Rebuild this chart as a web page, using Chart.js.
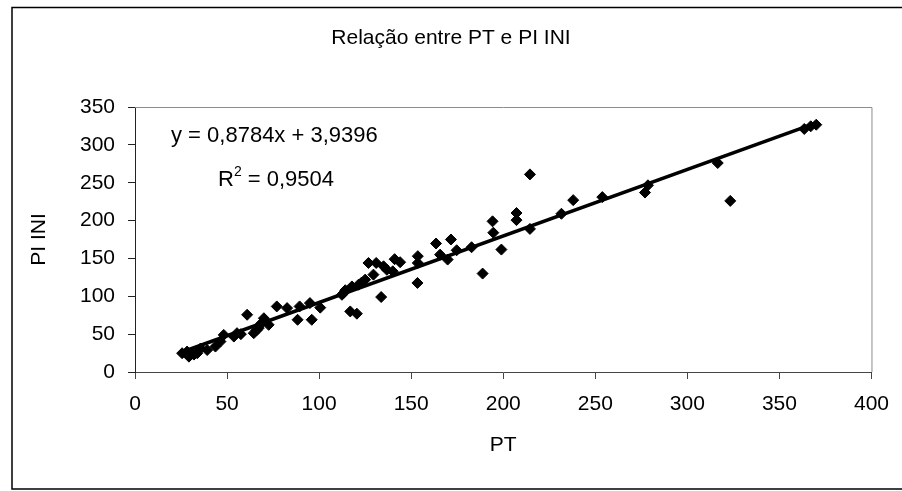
<!DOCTYPE html>
<html>
<head>
<meta charset="utf-8">
<script src="https://cdn.jsdelivr.net/npm/chart.js@4"></script>
<style>
  html, body { margin: 0; padding: 0; background: #ffffff; }
  #wrap { width: 902px; height: 491px; position: relative; }
</style>
</head>
<body>
<div id="wrap"><canvas id="chart" width="902" height="491"></canvas></div>
<script>
// PT (x) and PI INI (y) observations
const ptValues = [
  25.6, 28.3, 29.3, 32, 33.8, 35.6, 39.2, 43.7, 46.4, 48.2,
  53.7, 55.4, 57.5, 60.9, 64.5, 66, 67.2, 68.5, 70, 72.6,
  77, 82.6, 88.3, 89.4, 95, 96, 100.6, 112.4, 113.3, 114.2,
  117.8, 116.9, 120.5, 121.4, 123, 125, 126.8, 129.5, 131, 133.7,
  135, 136.8, 140, 141, 144, 153.6, 153.6, 153.4, 163.5, 165.7,
  169.8, 171.6, 174.7, 182.8, 188.8, 194.2, 194.6, 199, 207.2, 207.2,
  214.5, 214.5, 231.6, 238, 253.8, 277, 278.6, 316.5, 323.3, 363.5,
  367, 370
];
const piValues = [
  24.8, 27, 20.3, 23, 24.8, 31, 29, 33.6, 40.2, 49,
  46.8, 51.3, 50, 75.6, 51.3, 55, 58, 64, 71, 62.3,
  86.6, 84.4, 69, 86.6, 91, 69, 85, 102, 104.3, 108,
  113, 80, 77, 115.3, 118, 122, 144, 128.6, 144, 99,
  139.6, 135, 133, 149, 145, 153, 144, 117.6, 169.7, 155,
  148.5, 175, 160.8, 164.8, 130, 199, 184, 161.7, 210, 200.6,
  189, 261, 209, 227, 231, 237, 246.6, 276, 226, 321,
  324.5, 326.6
];

// Linear trendline coefficients and fit quality
const slope = 0.8784;
const intercept = 3.9396;
const rSquared = '0,9504';
const equationText = 'y = 0,8784x + 3,9396';

const chartTitle = 'Relação entre PT e PI INI';
const xTitle = 'PT';
const yTitle = 'PI INI';
const xTicks = [0, 50, 100, 150, 200, 250, 300, 350, 400];
const yTicks = [0, 50, 100, 150, 200, 250, 300, 350];

const FONT = '"Liberation Sans", Arial, Helvetica, sans-serif';

const points = ptValues.map((x, i) => ({ x: x, y: piValues[i] }));
const xMin = Math.min(...ptValues);
const xMax = Math.max(...ptValues);
const trend = [
  { x: xMin, y: slope * xMin + intercept },
  { x: xMax, y: slope * xMax + intercept }
];

// Outer frame, plot border, title and the trendline label
const decorations = {
  id: 'decorations',
  beforeDraw(chart) {
    const ctx = chart.ctx;
    ctx.save();
    ctx.fillStyle = '#ffffff';
    ctx.fillRect(0, 0, chart.width, chart.height);
    ctx.restore();
  },
  beforeDatasetsDraw(chart) {
    const { ctx, chartArea: a } = chart;
    ctx.save();
    ctx.strokeStyle = '#8c8c8c';
    ctx.lineWidth = 1;
    ctx.beginPath();
    ctx.moveTo(a.left, a.top + 0.5);
    ctx.lineTo(a.right + 0.5, a.top + 0.5);
    ctx.lineTo(a.right + 0.5, a.bottom);
    ctx.stroke();
    ctx.restore();
  },
  afterDraw(chart) {
    const { ctx } = chart;
    ctx.save();
    // frame around the whole chart
    ctx.strokeStyle = '#000000';
    ctx.lineWidth = 1.5;
    ctx.strokeRect(12, 7.5, 900, 481.5);

    ctx.fillStyle = '#000000';
    ctx.textBaseline = 'middle';
    ctx.textAlign = 'center';
    ctx.font = '21px ' + FONT;
    ctx.fillText(chartTitle, 451, 38);

    // trendline equation
    ctx.textAlign = 'left';
    ctx.font = '22px ' + FONT;
    ctx.fillText(equationText, 171, 136);

    // R² with superscript
    let x = 218;
    const y = 180;
    ctx.fillText('R', x, y);
    x += ctx.measureText('R').width;
    ctx.font = '14px ' + FONT;
    ctx.fillText('2', x, y - 8);
    x += ctx.measureText('2').width;
    ctx.font = '22px ' + FONT;
    ctx.fillText(' = ' + rSquared, x, y);
    ctx.restore();
  }
};

new Chart(document.getElementById('chart'), {
  type: 'scatter',
  data: {
    datasets: [
      {
        label: 'PI INI',
        data: points,
        pointStyle: 'rectRot',
        pointRadius: 5.5,
        pointBorderWidth: 1,
        backgroundColor: '#000000',
        borderColor: '#000000',
        order: 2
      },
      {
        label: 'Linear',
        type: 'line',
        data: trend,
        showLine: true,
        borderColor: '#000000',
        borderWidth: 3.5,
        pointRadius: 0,
        fill: false,
        order: 1
      }
    ]
  },
  options: {
    responsive: false,
    animation: false,
    devicePixelRatio: 1,
    layout: { padding: { left: 0, right: 28, top: 107, bottom: 0 } },
    plugins: {
      legend: { display: false },
      tooltip: { enabled: false },
      title: { display: false }
    },
    scales: {
      x: {
        type: 'linear',
        min: 0,
        max: 400,
        afterBuildTicks(scale) { scale.ticks = xTicks.map(v => ({ value: v })); },
        afterFit(scale) { scale.height = 119; },
        grid: { drawOnChartArea: false, drawTicks: true, tickLength: 7, color: '#444444' },
        border: { display: true, color: '#444444', width: 1 },
        ticks: { color: '#000000', font: { family: FONT, size: 21 }, padding: 13, maxRotation: 0 },
        title: {
          display: true,
          text: xTitle,
          color: '#000000',
          font: { family: FONT, size: 21 },
          padding: { top: 0, bottom: 33 }
        }
      },
      y: {
        type: 'linear',
        min: 0,
        max: 350,
        afterBuildTicks(scale) { scale.ticks = yTicks.map(v => ({ value: v })); },
        afterFit(scale) { scale.width = 135; },
        grid: { drawOnChartArea: false, drawTicks: true, tickLength: 7, color: '#222222' },
        border: { display: true, color: '#222222', width: 1 },
        ticks: { color: '#000000', font: { family: FONT, size: 21 }, padding: 13 },
        title: {
          display: true,
          text: yTitle,
          color: '#000000',
          font: { family: FONT, size: 21 },
          padding: { top: 27, bottom: 0 }
        }
      }
    }
  },
  plugins: [decorations]
});
</script>
</body>
</html>
